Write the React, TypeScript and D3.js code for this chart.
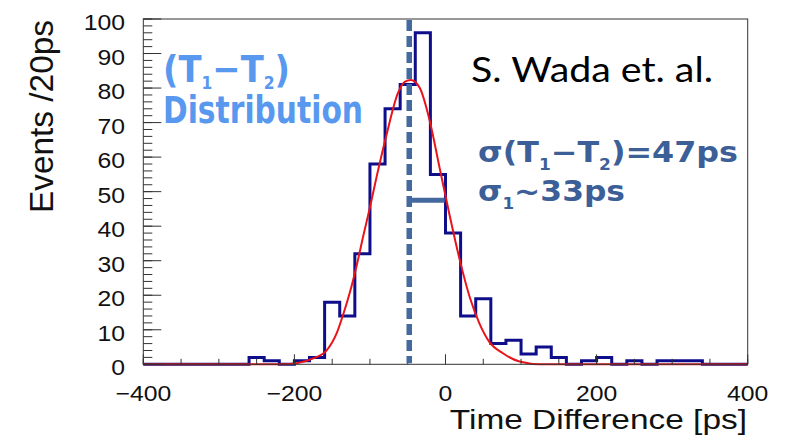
import React, { useRef, useLayoutEffect, useState } from 'react';
import * as d3 from 'd3';

// ---------- data ----------
const binLowEdges = [
  -400, -380, -360, -340, -320, -300, -280, -260, -240, -220,
  -200, -180, -160, -140, -120, -100, -80, -60, -40, -20,
  0, 20, 40, 60, 80, 100, 120, 140, 160, 180,
  200, 220, 240, 260, 280, 300, 320, 340, 360, 380,
];
const binUpperLimit = 400;
const binCounts = [
  0, 0, 0, 0, 0, 0, 0, 2, 1, 0,
  1, 2, 18, 14, 32, 58, 74, 81, 96, 55,
  38, 14, 19, 6, 7, 3, 5, 2, 0, 1,
  2, 0, 1, 0, 1, 1, 1, 0, 0, 0,
];
// red fit curve
const fitX = [-400, -215, -197, -175, -157, -144, -135, -127, -118, -109, -100, -91, -78, -63, -54, -46, -34, -21, -8, 5, 19, 32, 45, 58, 76, 98, 125, 400];
const fitY = [0, 0, 0.3, 1.7, 4.1, 9, 14.7, 20.5, 28.2, 37, 45.5, 54.5, 66.5, 78.5, 81.8, 82.3, 80, 70.6, 57.1, 43.6, 30.1, 19.5, 11.8, 6.5, 3.2, 0.8, 0, 0];

const xDomain = [-400, 400];
const yDomain = [0, 100];
const meanMarker = -48; // dashed line position [ps]
const sigmaMarker = 47; // horizontal bar length [ps]
const sigmaBarLevel = 47.5; // events

const xTitle = 'Time Difference [ps]';
const yTitle = 'Events /20ps';
const authorText = 'S. Wada et. al.';

// ---------- helpers ----------
type FitProps = {
  x: number; y: number; width: number; anchor?: 'start' | 'middle' | 'end';
  rotate?: number; style?: React.CSSProperties; children: React.ReactNode;
};
function FitText({ x, y, width, anchor = 'start', rotate = 0, style, children }: FitProps) {
  const ref = useRef<SVGTextElement>(null);
  const [sx, setSx] = useState(1);
  useLayoutEffect(() => {
    const measure = () => {
      if (!ref.current) return;
      const w = ref.current.getBBox().width;
      if (w > 0) setSx(width / w);
    };
    measure();
    const f = (document as any).fonts;
    if (f && f.ready) f.ready.then(measure);
  }, [width]);
  return (
    <g transform={`translate(${x},${y}) rotate(${rotate}) scale(${sx},1)`}>
      <text ref={ref} x={0} y={0} textAnchor={anchor} style={style}>{children}</text>
    </g>
  );
}

export default function App() {
  const W = 787, H = 438;
  const left = 143.3, right = 747.7, top = 19, bottom = 364.3;
  const x = d3.scaleLinear().domain(xDomain).range([left, right]);
  const y = d3.scaleLinear().domain(yDomain).range([bottom, top]);

  const histPts: [number, number][] = binLowEdges.map((e, i) => [e, binCounts[i]]);
  histPts.push([binUpperLimit, 0]);
  const histPath = d3.line<[number, number]>()
    .x(d => x(d[0])).y(d => y(d[1]))
    .curve(d3.curveStepAfter)(histPts) || '';

  const fitPts: [number, number][] = fitX.map((v, i) => [v, fitY[i]]);
  const fitPath = d3.line<[number, number]>()
    .x(d => x(d[0])).y(d => y(d[1]))
    .curve(d3.curveMonotoneX)(fitPts) || '';

  const xMajor = x.ticks(4);
  const xMinor = x.ticks(16);
  const yMajor = y.ticks(10);
  const yMinor = y.ticks(50);
  const fmt = d3.format('d');

  const axisColor = '#333';
  const tickFont: React.CSSProperties = { fontFamily: "'Liberation Sans', Arial, sans-serif", fontSize: 22.5, fill: '#111' };
  const lightBlue: React.CSSProperties = { fontFamily: "'DejaVu Sans', Verdana, sans-serif", fontWeight: 'bold', fontSize: 37, fill: '#5898ee' };
  const darkBlue: React.CSSProperties = { fontFamily: "'DejaVu Sans', Verdana, sans-serif", fontWeight: 'bold', fontSize: 28, fill: '#3d5f98' };

  return (
    <svg width={W} height={H} style={{ position: 'absolute', left: 0, top: 0, display: 'block', background: '#fff' }}>
      <rect x={0} y={0} width={W} height={H} fill="#fff" />
      {/* histogram */}
      <path d={histPath} fill="none" stroke="#0e0e8a" strokeWidth={3} strokeLinejoin="miter" />
      {/* fit */}
      <path d={fitPath} fill="none" stroke="#e8141c" strokeWidth={2} />
      {/* frame */}
      <rect x={left} y={top} width={right - left} height={bottom - top} fill="none" stroke={axisColor} strokeWidth={1} />
      {/* x ticks */}
      {xMinor.map(t => (
        <line key={'xm' + t} x1={x(t)} x2={x(t)} y1={bottom} y2={bottom - 5.5} stroke={axisColor} strokeWidth={1} />
      ))}
      {xMajor.map(t => (
        <line key={'xM' + t} x1={x(t)} x2={x(t)} y1={bottom} y2={bottom - 10} stroke={axisColor} strokeWidth={1} />
      ))}
      {/* y ticks */}
      {yMinor.map(t => (
        <line key={'ym' + t} x1={left} x2={left + 9} y1={y(t)} y2={y(t)} stroke={axisColor} strokeWidth={1} />
      ))}
      {yMajor.map(t => (
        <line key={'yM' + t} x1={left} x2={left + 18} y1={y(t)} y2={y(t)} stroke={axisColor} strokeWidth={1} />
      ))}
      {/* tick labels */}
      {xMajor.map(t => (
        <g key={'xl' + t} transform={`translate(${x(t)},${400.5}) scale(1.1,1)`}>
          <text textAnchor="middle" style={tickFont}>{fmt(t)}</text>
        </g>
      ))}
      {yMajor.map(t => (
        <g key={'yl' + t} transform={`translate(${125},${y(t) + 11}) scale(1.1,1)`}>
          <text textAnchor="end" style={tickFont}>{fmt(t)}</text>
        </g>
      ))}
      {/* axis titles */}
      <FitText x={747} y={428.5} width={297} anchor="end"
        style={{ fontFamily: "'Liberation Sans', Arial, sans-serif", fontSize: 28, fill: '#111' }}>{xTitle}</FitText>
      <FitText x={53} y={20} width={193} anchor="end" rotate={-90}
        style={{ fontFamily: "'Liberation Sans', Arial, sans-serif", fontSize: 33, fill: '#111' }}>{yTitle}</FitText>

      {/* mean dashed line & sigma bar */}
      <line x1={x(meanMarker)} x2={x(meanMarker)} y1={top + 1} y2={bottom - 1}
        stroke="#44699f" strokeWidth={5.5} strokeDasharray="11,5" />
      <line x1={x(meanMarker)} x2={x(meanMarker + sigmaMarker)} y1={y(sigmaBarLevel)} y2={y(sigmaBarLevel)}
        stroke="#44699f" strokeWidth={5} />

      {/* annotations */}
      <FitText x={163} y={82} width={127} style={lightBlue}>
        <tspan>(T</tspan>
        <tspan fontSize={17} dy={7}>1</tspan>
        <tspan dy={-7}>−T</tspan>
        <tspan fontSize={17} dy={7}>2</tspan>
        <tspan dy={-7}>)</tspan>
      </FitText>
      <FitText x={163} y={123.3} width={200} style={lightBlue}>Distribution</FitText>
      <FitText x={471} y={82} width={242}
        style={{ fontFamily: "Lato, 'Open Sans', sans-serif", fontSize: 35, fill: '#000' }}>{authorText}</FitText>
      <FitText x={478} y={161.7} width={260} style={darkBlue}>
        <tspan>σ(T</tspan>
        <tspan fontSize={15} dy={8}>1</tspan>
        <tspan dy={-8}>−T</tspan>
        <tspan fontSize={15} dy={8}>2</tspan>
        <tspan dy={-8}>)=47ps</tspan>
      </FitText>
      <FitText x={478} y={200.5} width={147} style={darkBlue}>
        <tspan>σ</tspan>
        <tspan fontSize={15} dy={8}>1</tspan>
        <tspan dy={-8}>~33ps</tspan>
      </FitText>
    </svg>
  );
}
